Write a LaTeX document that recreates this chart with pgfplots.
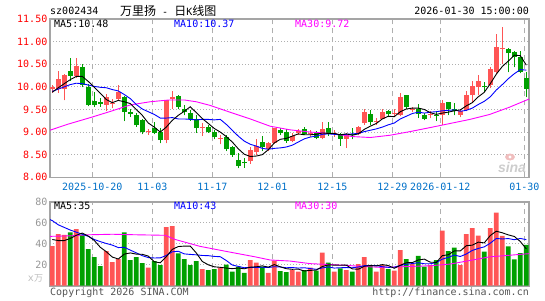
\documentclass[border=0pt]{standalone}
\usepackage{pgfplots}
\pgfplotsset{compat=1.18}
\usepackage{pgfplotstable}
\usepackage{fontspec}
\newfontfamily\mono{DejaVu Sans Mono}
\newfontfamily\cjk{Noto Sans CJK SC}
\newfontfamily\lib{Liberation Sans}
\definecolor{upred}{RGB}{255,85,85}
\definecolor{dngreen}{RGB}{0,160,0}
\definecolor{framegray}{RGB}{165,165,165}
\definecolor{gridgray}{RGB}{175,175,175}
\definecolor{datelbl}{RGB}{0,112,200}
\definecolor{volgray}{RGB}{150,150,150}
\definecolor{ma10}{RGB}{0,0,255}
\definecolor{ma30}{RGB}{255,0,255}
\definecolor{unitgray}{RGB}{190,190,190}
\definecolor{footgray}{RGB}{85,85,85}
\definecolor{logopink}{RGB}{240,190,190}
\definecolor{logogray}{RGB}{205,205,205}
\newcommand{\mf}{\mono\fontsize{10}{12}\selectfont}

\pgfplotstableread{
i O H L C V
0 9.96 10.04 9.87 9.99 37.8
1 9.96 10.36 9.87 10.18 49.2
2 9.95 10.28 9.70 10.26 48.3
3 10.34 10.63 10.14 10.25 50.8
4 10.25 10.63 10.20 10.45 54.0
5 10.43 10.50 9.99 10.03 48.3
6 10.00 10.07 9.57 9.60 34.9
7 9.68 9.88 9.55 9.60 27.3
8 9.67 9.76 9.56 9.62 18.7
9 9.60 9.85 9.47 9.77 33.0
10 9.63 9.74 9.53 9.65 22.5
11 9.74 10.03 9.72 9.88 25.4
12 9.77 9.80 9.24 9.44 50.8
13 9.45 9.50 9.33 9.40 24.4
14 9.37 9.42 9.12 9.15 27.3
15 9.27 9.30 8.95 9.00 21.6
16 9.00 9.06 8.94 9.02 17.1
17 9.08 9.22 8.95 8.99 23.5
18 9.00 9.08 8.75 8.82 19.7
19 8.83 9.72 8.75 9.70 55.9
20 9.74 9.90 9.52 9.78 56.8
21 9.79 9.82 9.50 9.56 30.8
22 9.52 9.60 9.37 9.45 25.4
23 9.42 9.48 9.25 9.30 19.7
24 9.30 9.38 8.98 9.08 23.5
25 9.10 9.20 8.92 9.12 15.9
26 9.11 9.15 8.98 9.01 14.9
27 9.00 9.04 8.84 8.90 15.9
28 8.85 8.93 8.73 8.87 17.1
29 8.89 8.93 8.58 8.62 20.0
30 8.67 8.70 8.45 8.50 13.3
31 8.38 8.53 8.20 8.25 18.1
32 8.33 8.42 8.21 8.31 12.1
33 8.35 8.68 8.30 8.60 24.4
34 8.56 8.85 8.50 8.70 22.0
35 8.78 8.92 8.58 8.66 18.1
36 8.62 8.79 8.58 8.76 12.1
37 8.76 9.10 8.74 9.08 23.8
38 9.04 9.08 8.93 8.99 14.0
39 9.00 9.06 8.76 8.80 13.0
40 8.80 8.97 8.77 8.92 14.9
41 8.97 9.07 8.93 9.02 13.3
42 9.06 9.11 8.93 8.96 14.9
43 8.95 9.04 8.90 8.99 17.1
44 8.99 9.02 8.84 8.87 14.3
45 8.87 9.22 8.84 9.06 31.4
46 9.08 9.22 8.92 8.95 21.9
47 8.96 9.04 8.90 8.98 13.3
48 8.95 8.97 8.70 8.85 16.5
49 8.85 8.99 8.65 8.94 14.9
50 8.96 9.09 8.84 8.94 13.3
51 8.95 9.13 8.93 9.11 20.6
52 9.19 9.52 9.16 9.44 27.3
53 9.39 9.48 9.15 9.22 19.7
54 9.22 9.31 9.16 9.25 13.3
55 9.30 9.50 9.28 9.44 19.7
56 9.46 9.49 9.33 9.39 15.9
57 9.40 9.50 9.33 9.42 14.3
58 9.37 9.87 9.35 9.77 34.0
59 9.81 9.82 9.52 9.55 25.4
60 9.48 9.55 9.44 9.50 20.6
61 9.52 9.63 9.31 9.39 28.3
62 9.38 9.43 9.26 9.30 18.1
63 9.37 9.46 9.31 9.39 19.7
64 9.38 9.46 9.24 9.36 24.4
65 9.37 9.72 9.16 9.65 52.4
66 9.66 9.67 9.37 9.50 33.0
67 9.50 9.65 9.37 9.47 36.2
68 9.38 9.50 9.33 9.46 19.7
69 9.48 9.90 9.46 9.81 49.2
70 9.81 10.12 9.65 10.01 54.9
71 9.99 10.26 9.81 10.14 47.6
72 10.02 10.10 9.88 9.99 32.4
73 10.03 10.43 9.97 10.40 54.9
74 10.32 11.16 10.28 10.87 69.5
75 10.84 11.33 10.50 10.86 47.5
76 10.83 10.85 10.32 10.74 37.5
77 10.77 10.80 10.43 10.65 25.0
78 10.67 10.80 10.30 10.33 31.0
79 10.20 10.33 9.77 9.95 39.0
}\kdata

\pgfplotsset{
  panel/.style={
    scale only axis, width=479pt,
    xmin=-0.38, xmax=79.45,
    axis line style={framegray, line width=1.6pt},
    xtick={6.67,16.67,26.67,36.67,46.67,56.67,64.67,78.67},
    xmajorgrids, ymajorgrids,
    x grid style={gridgray, line width=1.1pt, dash pattern=on 5pt off 4pt},
    y grid style={gridgray, line width=0.9pt, dash pattern=on 1pt off 2pt},
    major tick length=0pt,
    /pgf/number format/assume math mode=true,
    clip=true,
  },
  wick/.style={only marks, mark=*, mark size=0pt, mark options={draw=none, fill=none}, forget plot,
    error bars/.cd, y dir=plus, y explicit, error mark=none,
    error bar style={#1, line width=1pt}},
  body/.style={only marks, mark=*, mark size=0pt, mark options={draw=none, fill=none}, forget plot,
    error bars/.cd, y dir=plus, y explicit, error mark=none,
    error bar style={#1, line width=5pt, line cap=butt}},
}

\begin{document}
\begin{tikzpicture}
\useasboundingbox (0pt,0pt) rectangle (545pt,300pt);

% ---------------- price panel ----------------
\begin{axis}[panel,
  at={(50pt,122.7pt)}, anchor=south west,
  height=158.3pt, ymin=8, ymax=11.5,
  ytick={8,8.5,...,11.5},
  yticklabel style={font=\mf, text=red, inner sep=2.5pt,
    /pgf/number format/fixed, /pgf/number format/fixed zerofill,
    /pgf/number format/precision=2},
  xticklabels={2025-10-20,11-03,11-17,12-01,12-15,12-29,2026-01-12,01-30},
  xticklabel style={font=\mf, text=datelbl, inner sep=0pt, yshift=-5.5pt},
]
% wicks
\addplot [restrict expr to domain={\thisrow{C}-\thisrow{O}}{0:100}, wick=upred]
  table [x=i, y=L, y error expr=\thisrow{H}-\thisrow{L}] {\kdata};
\addplot [restrict expr to domain={\thisrow{O}-\thisrow{C}}{0.0001:100}, wick=dngreen]
  table [x=i, y=L, y error expr=\thisrow{H}-\thisrow{L}] {\kdata};
% bodies
\addplot [restrict expr to domain={\thisrow{C}-\thisrow{O}}{0:100}, body=upred]
  table [x=i, y=O, y error expr=\thisrow{C}-\thisrow{O}] {\kdata};
\addplot [restrict expr to domain={\thisrow{O}-\thisrow{C}}{0.0001:100}, body=dngreen]
  table [x=i, y=C, y error expr=\thisrow{O}-\thisrow{C}] {\kdata};
% MA30
\addplot [ma30, line width=0.9pt, mark=none] coordinates {
(-0.4,9.04) (2.5,9.17) (6.6,9.33) (10,9.47) (13,9.60) (16.3,9.67) (19.5,9.71)
(22,9.71) (24,9.67) (26.3,9.59) (29.6,9.44) (33,9.29) (36.3,9.13) (39.6,9.05)
(43,9.00) (46.3,8.97) (50.1,8.90) (53,8.88) (56.3,8.93) (59.6,9.01) (63,9.10)
(66.3,9.19) (69.6,9.28) (72.9,9.39) (76.2,9.55) (79.45,9.73)};
% MA10
\addplot [ma10, line width=0.9pt, mark=none] coordinates {
(0,9.90) (1,9.95) (2,10.00) (3,10.05) (4,10.08) (5,10.07) (6,10.04) (7,10.01)
(8,9.99) (9,9.98) (10,9.94) (11,9.91) (12,9.83) (13,9.74) (14,9.61) (15,9.51)
(16,9.45) (17,9.39) (18,9.31) (19,9.31) (20,9.32) (21,9.29) (22,9.29) (23,9.28)
(24,9.27) (25,9.28) (26,9.28) (27,9.27) (28,9.28) (29,9.17) (30,9.04) (31,8.91)
(32,8.80) (33,8.73) (34,8.69) (35,8.64) (36,8.62) (37,8.64) (38,8.65) (39,8.67)
(40,8.71) (41,8.78) (42,8.85) (43,8.89) (44,8.91) (45,8.95) (46,8.96) (47,8.95)
(48,8.94) (49,8.95) (50,8.96) (51,8.97) (52,9.01) (53,9.04) (54,9.07) (55,9.11)
(56,9.16) (57,9.20) (58,9.29) (59,9.35) (60,9.41) (61,9.44) (62,9.42) (63,9.44)
(64,9.45) (65,9.47) (66,9.48) (67,9.49) (68,9.46) (69,9.48) (70,9.53) (71,9.61)
(72,9.68) (73,9.78) (74,9.93) (75,10.05) (76,10.18) (77,10.29) (78,10.38) (79,10.37)};
% MA5
\addplot [black, line width=0.9pt, mark=none] coordinates {
(0,9.88) (1,9.98) (2,10.07) (3,10.16) (4,10.23) (5,10.23) (6,10.12) (7,9.99)
(8,9.86) (9,9.72) (10,9.65) (11,9.70) (12,9.67) (13,9.63) (14,9.50) (15,9.37)
(16,9.20) (17,9.11) (18,9.00) (19,9.11) (20,9.26) (21,9.37) (22,9.46) (23,9.56)
(24,9.43) (25,9.30) (26,9.19) (27,9.08) (28,9.00) (29,8.90) (30,8.78) (31,8.63)
(32,8.51) (33,8.46) (34,8.47) (35,8.50) (36,8.61) (37,8.76) (38,8.84) (39,8.86)
(40,8.91) (41,8.96) (42,8.94) (43,8.94) (44,8.95) (45,8.98) (46,8.97) (47,8.97)
(48,8.94) (49,8.96) (50,8.93) (51,8.96) (52,9.06) (53,9.13) (54,9.19) (55,9.29)
(56,9.35) (57,9.34) (58,9.45) (59,9.51) (60,9.53) (61,9.53) (62,9.50) (63,9.43)
(64,9.39) (65,9.42) (66,9.44) (67,9.47) (68,9.49) (69,9.58) (70,9.65) (71,9.78)
(72,9.88) (73,10.07) (74,10.28) (75,10.45) (76,10.57) (77,10.70) (78,10.69) (79,10.48)};
\end{axis}

% ---------------- volume panel ----------------
\begin{axis}[panel,
  at={(50pt,14.3pt)}, anchor=south west,
  height=84pt, ymin=0, ymax=80,
  ytick={20,40,60,80},
  yticklabel style={font=\mf, text=volgray, inner sep=2.5pt},
  xticklabels={},
]
\addplot [ybar, bar width=4.8pt, bar shift=0pt, fill=upred, draw=none, forget plot,
  restrict expr to domain={\thisrow{C}-\thisrow{O}}{0:100}]
  table [x=i, y=V] {\kdata};
\addplot [ybar, bar width=4.8pt, bar shift=0pt, fill=dngreen, draw=none, forget plot,
  restrict expr to domain={\thisrow{O}-\thisrow{C}}{0.0001:100}]
  table [x=i, y=V] {\kdata};
% vol MA30
\addplot [ma30, line width=0.9pt, mark=none] coordinates {
(-0.4,47) (3,47.5) (6,48.5) (10,49) (14,48.5) (18.8,48) (20.5,44) (24.6,37.5)
(29.6,32) (33.8,27.5) (36.3,24.5) (39.6,23.5) (43,21) (48,19.7) (51.3,18.5)
(54.6,17.5) (58,18) (63,19) (66.3,20.6) (69.6,24) (72.9,27.5) (76.2,29) (79.45,30.5)};
% vol MA10
\addplot [ma10, line width=0.9pt, mark=none] coordinates {
(-0.4,63) (0,62) (1,58) (2,55.5) (3,53) (4,51) (5,49) (6,47) (7,44) (8,42) (9,40.2)
(10,38.7) (11,36.3) (12,36.6) (13,33.9) (14,31.3) (15,28.6) (16,26.8) (17,26.4)
(18,26.5) (19,28.8) (20,32.3) (21,32.8) (22,30.3) (23,29.8) (24,29.4) (25,28.8)
(26,28.6) (27,27.9) (28,27.6) (29,24.0) (30,19.7) (31,18.4) (32,17.1) (33,17.5)
(34,17.4) (35,17.6) (36,17.3) (37,18.1) (38,17.8) (39,17.1) (40,17.3) (41,16.8)
(42,17.1) (43,16.3) (44,15.6) (45,16.9) (46,17.9) (47,16.8) (48,17.1) (49,17.3)
(50,17.1) (51,17.8) (52,19.1) (53,19.3) (54,19.2) (55,18.1) (56,17.5) (57,17.6)
(58,19.3) (59,20.4) (60,21.1) (61,21.9) (62,20.9) (63,20.9) (64,22.0) (65,25.3)
(66,27.0) (67,29.2) (68,27.8) (69,30.2) (70,33.6) (71,35.5) (72,37.0) (73,40.5)
(74,45.0) (75,44.5) (76,44.9) (77,43.8) (78,45.0) (79,43.9)};
% vol MA5
\addplot [black, line width=0.9pt, mark=none] coordinates {
(0,44) (1,43) (2,43) (3,45) (4,48.0) (5,50.1) (6,47.3) (7,43.1) (8,36.6) (9,32.4)
(10,27.3) (11,25.4) (12,30.1) (13,31.2) (14,30.1) (15,29.9) (16,28.2) (17,22.8)
(18,21.8) (19,27.6) (20,34.6) (21,37.3) (22,37.7) (23,37.7) (24,31.2) (25,23.1)
(26,19.9) (27,18.0) (28,17.5) (29,16.8) (30,16.2) (31,16.9) (32,16.1) (33,17.6)
(34,18.0) (35,18.9) (36,17.7) (37,20.1) (38,18.0) (39,16.2) (40,15.6) (41,15.8)
(42,14.0) (43,14.6) (44,14.9) (45,18.2) (46,19.9) (47,19.6) (48,19.5) (49,19.6)
(50,16.0) (51,15.7) (52,18.5) (53,19.2) (54,18.8) (55,20.1) (56,19.2) (57,16.6)
(58,19.4) (59,21.9) (60,22.0) (61,24.5) (62,25.3) (63,22.4) (64,22.2) (65,28.6)
(66,29.5) (67,33.1) (68,33.1) (69,38.1) (70,38.6) (71,41.5) (72,40.8) (73,47.8)
(74,51.9) (75,50.4) (76,48.4) (77,46.9) (78,42.1) (79,35.0)};
\end{axis}

% ---------------- texts ----------------
\node[anchor=west, inner sep=0pt, font=\mf] at (50pt,289pt) {sz002434};
\node[anchor=west, inner sep=0pt] at (120pt,289.5pt)
  {{\cjk\fontsize{12}{12}\selectfont 万里扬}{\mf\ -\ }{\cjk\fontsize{12}{12}\selectfont 日}{\mf K}{\cjk\fontsize{12}{12}\selectfont 线图}};
\node[anchor=east, inner sep=0pt, font=\mf] at (529pt,289pt) {2026-01-30 15:00:00};

\node[anchor=west, inner sep=0pt, font=\mf, text=black] at (54pt,276pt) {MA5:10.48};
\node[anchor=west, inner sep=0pt, font=\mf, text=ma10] at (174pt,276pt) {MA10:10.37};
\node[anchor=west, inner sep=0pt, font=\mf, text=ma30] at (295pt,276pt) {MA30:9.72};

\node[anchor=west, inner sep=0pt, font=\mf, text=black] at (54pt,94pt) {MA5:35};
\node[anchor=west, inner sep=0pt, font=\mf, text=ma10] at (174pt,94pt) {MA10:43};
\node[anchor=west, inner sep=0pt, font=\mf, text=ma30] at (295pt,94pt) {MA30:30};

\node[inner sep=0pt, text=unitgray] at (35.5pt,21.5pt)
  {{\mf x}{\cjk\fontsize{9}{9}\selectfont 万}};

\node[anchor=west, inner sep=0pt, font=\mf, text=footgray] at (50pt,7.5pt) {Copyright 2026 SINA.COM};
\node[anchor=east, inner sep=0pt, font=\mf, text=footgray] at (529pt,7.5pt) {http://finance.sina.com.cn};

% sina watermark
\fill[logopink] (510pt,143pt) ellipse (5pt and 3.5pt);
\fill[white] (510pt,143pt) circle (1.6pt);
\node[inner sep=0pt, text=logogray] at (512pt,133pt)
  {\lib\fontsize{14}{14}\selectfont\bfseries\itshape sina};
\end{tikzpicture}
\end{document}
